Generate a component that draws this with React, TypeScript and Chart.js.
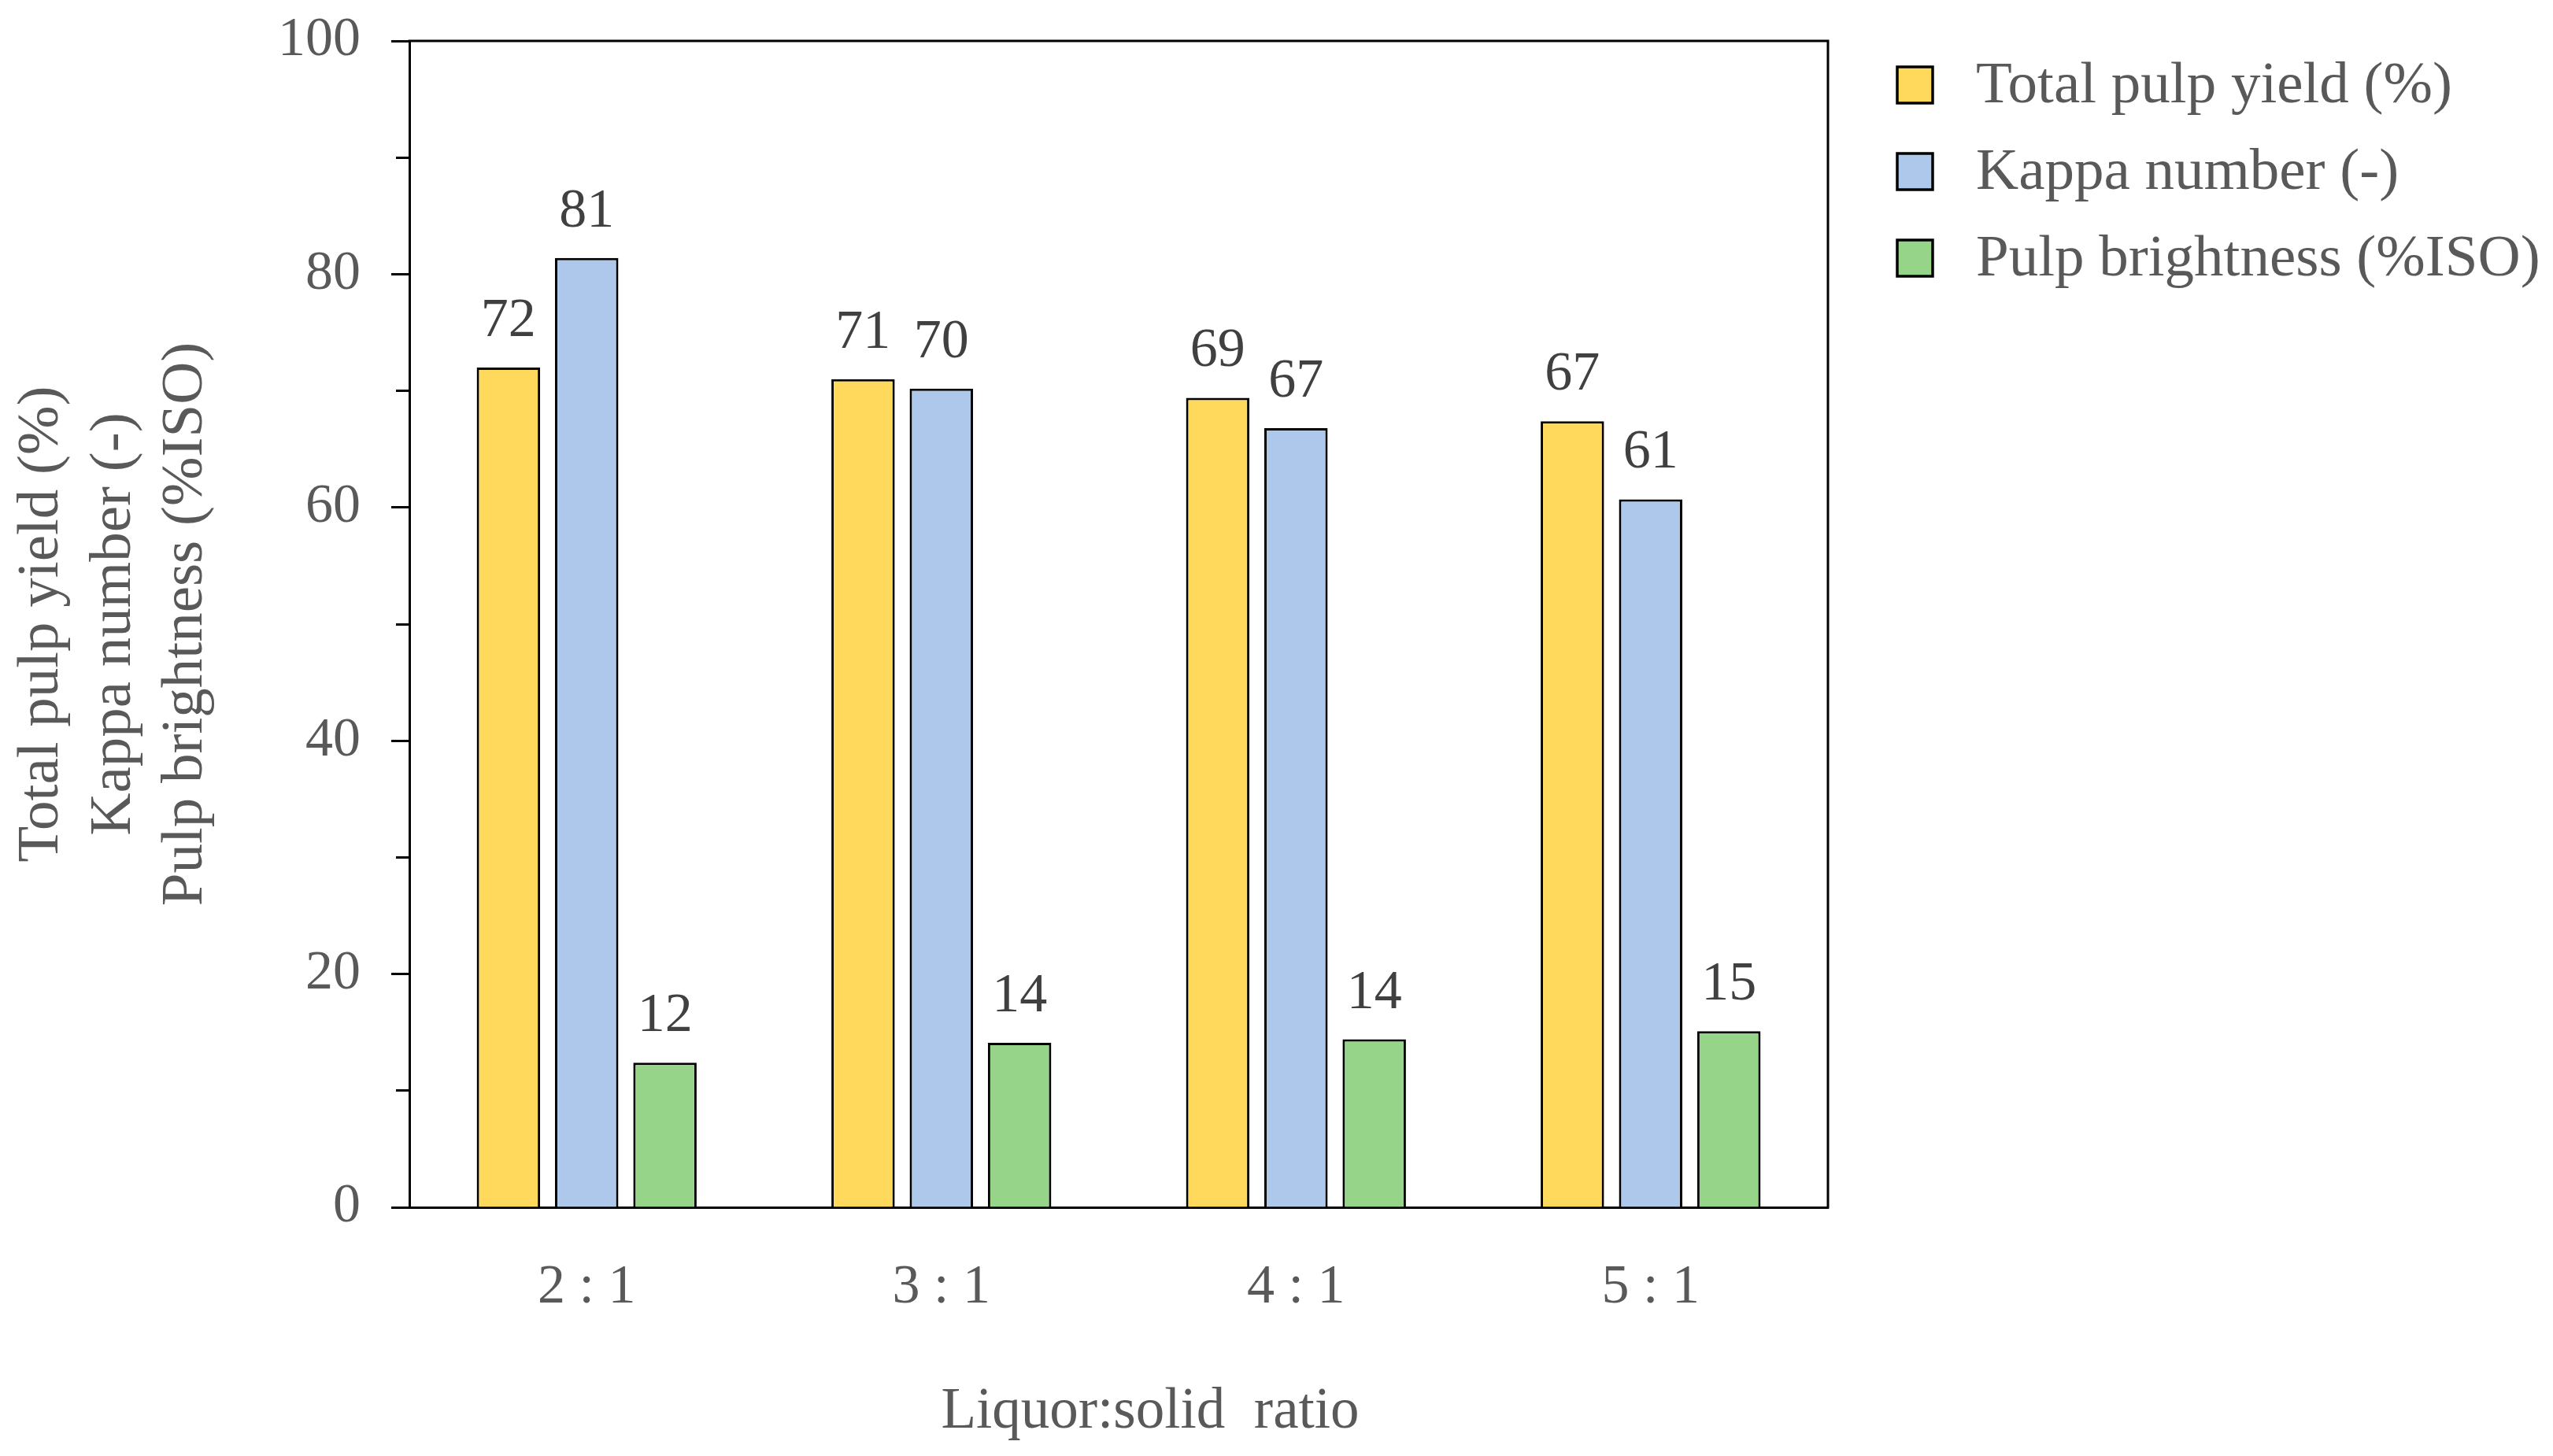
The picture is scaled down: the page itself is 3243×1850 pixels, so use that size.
import React, { useEffect, useRef } from "react";
import { Chart, registerables } from "chart.js";

Chart.register(...registerables);

const categories = ["2 : 1", "3 : 1", "4 : 1", "5 : 1"];
const seriesLabels = ["Total pulp yield (%)", "Kappa number (-)", "Pulp brightness (%ISO)"];
const totalPulpYield = [72.0, 71.0, 69.4, 67.4];
const kappaNumber = [81.4, 70.2, 66.8, 60.7];
const pulpBrightness = [12.4, 14.1, 14.4, 15.1];
const seriesColors = ["#FFD95C", "#ADC8EA", "#96D48A"];
const yTitleLines = ["Total pulp yield (%)", "Kappa number (-)", "Pulp brightness (%ISO)"];
const xTitle = "Liquor:solid  ratio";

const FONT = "'Liberation Serif', 'Times New Roman', serif";
const TEXT = "#595959";

const W = 3227;
const H = 1834;
const AREA_LEFT = 512;
const AREA_TOP = 44;
const AREA_RIGHT = 2314;
const AREA_BOTTOM = 1526;

export default function App() {
  const ref = useRef<HTMLCanvasElement | null>(null);

  useEffect(() => {
    if (!ref.current) return;

    const framePlugin = {
      id: "frame",
      afterDatasetsDraw(chart: any) {
        const { ctx, chartArea } = chart;
        ctx.save();
        ctx.strokeStyle = "#000";
        ctx.lineWidth = 3;
        ctx.beginPath();
        ctx.moveTo(chartArea.left - 1.5, chartArea.top);
        ctx.lineTo(chartArea.right, chartArea.top);
        ctx.lineTo(chartArea.right, chartArea.bottom + 1.5);
        ctx.stroke();
        ctx.restore();
      },
    };

    const valueLabels = {
      id: "valueLabels",
      afterDatasetsDraw(chart: any) {
        const { ctx } = chart;
        ctx.save();
        ctx.font = `70px ${FONT}`;
        ctx.fillStyle = "#404040";
        ctx.textAlign = "center";
        ctx.textBaseline = "alphabetic";
        chart.data.datasets.forEach((ds: any, i: number) => {
          const meta = chart.getDatasetMeta(i);
          meta.data.forEach((bar: any, j: number) => {
            ctx.fillText(String(Math.round(ds.data[j])), bar.x, bar.y - 40);
          });
        });
        ctx.restore();
      },
    };

    const xTitlePlugin = {
      id: "xTitle",
      afterDraw(chart: any) {
        const { ctx, chartArea } = chart;
        ctx.save();
        ctx.font = `73px ${FONT}`;
        ctx.fillStyle = TEXT;
        ctx.textAlign = "center";
        ctx.textBaseline = "middle";
        ctx.fillText(xTitle, (chartArea.left + chartArea.right) / 2 + 40, chartArea.bottom + 261);
        ctx.restore();
      },
    };

    const legendPlugin = {
      id: "customLegend",
      afterDraw(chart: any) {
        const { ctx, chartArea } = chart;
        ctx.save();
        const bx = chartArea.right + 88;
        chart.data.datasets.forEach((ds: any, i: number) => {
          const cy = chartArea.top + 56 + i * 110;
          ctx.fillStyle = ds.backgroundColor;
          ctx.fillRect(bx, cy - 23, 45, 46);
          ctx.strokeStyle = "#000";
          ctx.lineWidth = 3.5;
          ctx.strokeRect(bx, cy - 23, 45, 46);
          ctx.fillStyle = TEXT;
          ctx.font = `75px ${FONT}`;
          ctx.textAlign = "left";
          ctx.textBaseline = "middle";
          ctx.fillText(ds.label, chartArea.right + 188, cy + 2);
        });
        ctx.restore();
      },
    };

    const chart = new Chart(ref.current, {
      type: "bar",
      data: {
        labels: categories,
        datasets: [
          { label: seriesLabels[0], data: totalPulpYield, backgroundColor: seriesColors[0] },
          { label: seriesLabels[1], data: kappaNumber, backgroundColor: seriesColors[1] },
          { label: seriesLabels[2], data: pulpBrightness, backgroundColor: seriesColors[2] },
        ].map((d) => ({
          ...d,
          borderColor: "#000",
          borderWidth: 3,
          barPercentage: 0.81,
          categoryPercentage: 0.662,
        })),
      },
      options: {
        responsive: false,
        animation: false,
        devicePixelRatio: 1,
        layout: { autoPadding: false, padding: { left: 0, top: AREA_TOP, right: W - AREA_RIGHT, bottom: 0 } },
        plugins: {
          legend: { display: false },
          tooltip: { enabled: false },
        },
        scales: {
          x: {
            type: "category",
            offset: true,
            grid: { display: false, drawTicks: false },
            border: { display: true, color: "#000", width: 3 },
            ticks: { font: { family: FONT, size: 70 }, color: TEXT, padding: 61 },
            title: { display: false },
            afterFit(s: any) {
              s.height = H - AREA_BOTTOM;
              s.paddingLeft = 0;
              s.paddingRight = 0;
            },
          },
          y: {
            position: "left",
            weight: 1,
            min: 0,
            max: 100,
            ticks: { stepSize: 20, font: { family: FONT, size: 70 }, color: TEXT, padding: 39 },
            grid: { drawOnChartArea: false, drawTicks: true, tickLength: 23, tickColor: "#000", tickWidth: 3 },
            border: { display: true, color: "#000", width: 3 },
            title: {
              display: true,
              text: yTitleLines,
              font: { family: FONT, size: 75, lineHeight: 1.22 },
              color: TEXT,
              padding: 0,
            },
            afterFit(s: any) {
              s.width = AREA_LEFT;
              s.paddingTop = 0;
              s.paddingBottom = 0;
            },
          },
          yMinor: {
            position: "left",
            weight: 0,
            min: 0,
            max: 100,
            ticks: { stepSize: 10, display: false },
            grid: { drawOnChartArea: false, drawTicks: true, tickLength: 17, tickColor: "#000", tickWidth: 3 },
            border: { display: false },
            afterFit(s: any) {
              s.width = 0;
              s.paddingTop = 0;
              s.paddingBottom = 0;
            },
          },
        },
      } as any,
      plugins: [framePlugin, valueLabels, xTitlePlugin, legendPlugin],
    });

    return () => chart.destroy();
  }, []);

  return (
    <div style={{ width: W, height: H }}>
      <canvas ref={ref} width={W} height={H} style={{ display: "block", width: W, height: H }} />
    </div>
  );
}
